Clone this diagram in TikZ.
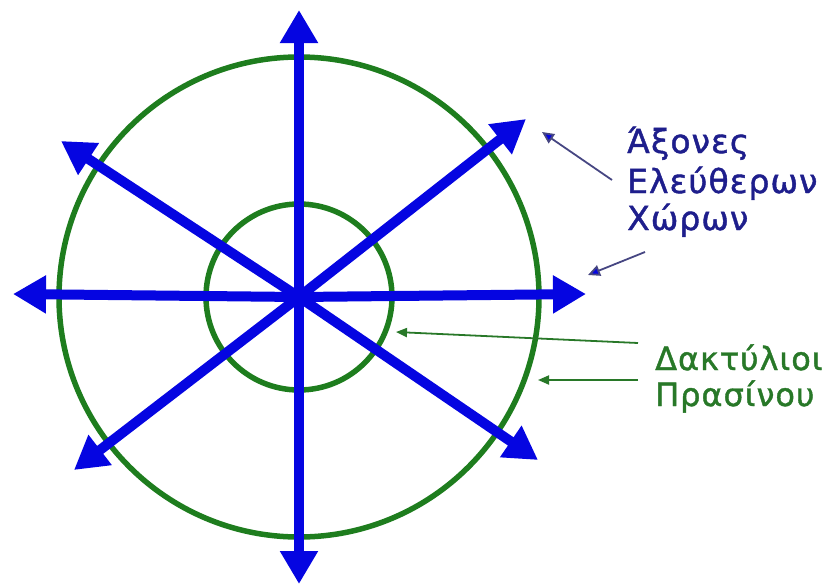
\documentclass[tikz,border=0pt]{standalone}
\usepackage{fontspec}
\setmainfont{DejaVu Sans}
\newfontfamily\lblfont[FakeBold=1.3,LetterSpace=3]{DejaVu Sans}
\usetikzlibrary{arrows.meta}
\definecolor{axisblue}{RGB}{5,5,225}
\definecolor{ringgreen}{RGB}{30,125,30}
\definecolor{txtblue}{RGB}{30,30,140}
\definecolor{txtgreen}{RGB}{40,120,40}
\definecolor{ptrblue}{RGB}{70,70,130}
\tikzset{
  axis/.style={draw=axisblue, line width=10pt, -{Triangle[length=33pt,width=36pt]}},
  ring/.style={draw=ringgreen, line width=5.5pt},
  ptrb/.style={draw=ptrblue, line width=1.8pt, -{Triangle[length=12pt,width=11pt,fill=axisblue]}},
  ptrg/.style={draw=txtgreen, line width=1.8pt, -{Triangle[length=11pt,width=9pt]}},
  lblb/.style={anchor=base west, inner sep=0pt, text=txtblue, font=\lblfont\fontsize{33}{38}\selectfont},
  lblg/.style={anchor=base west, inner sep=0pt, text=txtgreen, font=\lblfont\fontsize{32}{36}\selectfont},
}
\begin{document}
\begin{tikzpicture}[x=1pt,y=-1pt]
\useasboundingbox (0,0) rectangle (823,587);
\coordinate (c) at (299,297);
\draw[ring] (c) circle[radius=240];
\draw[ring] (c) circle[radius=93];
\coordinate (tN) at (299,10);
\coordinate (tS) at (299,584);
\coordinate (tW) at (13,294);
\coordinate (tE) at (586,294);
\coordinate (tNE) at (526,119);
\coordinate (tNW) at (61,141);
\coordinate (tSW) at (74,470);
\coordinate (tSE) at (538,460);
\foreach \t in {tN,tS,tW,tE,tNE,tNW,tSW,tSE} \draw[axis] (c) -- (\t);
\node[lblb] (l1) at (627,153) {Άξονες};
\node[lblb] (l2) at (627,193) {Ελεύθερων};
\node[lblb] (l3) at (627,230) {Χώρων};
\node[lblg] (g1) at (655,370) {Δακτύλιοι};
\node[lblg] (g2) at (655,406) {Πρασίνου};
\coordinate (pb1) at (612,180);
\coordinate (pb1t) at (542,132);
\coordinate (pb2) at (645,252);
\coordinate (pb2t) at (588,275);
\coordinate (pg1) at (638,343);
\coordinate (pg1t) at (396,332);
\coordinate (pg2) at (638,380);
\coordinate (pg2t) at (538,380);
\draw[ptrb] (pb1) -- (pb1t);
\draw[ptrb] (pb2) -- (pb2t);
\draw[ptrg] (pg1) -- (pg1t);
\draw[ptrg] (pg2) -- (pg2t);
\end{tikzpicture}
\end{document}
